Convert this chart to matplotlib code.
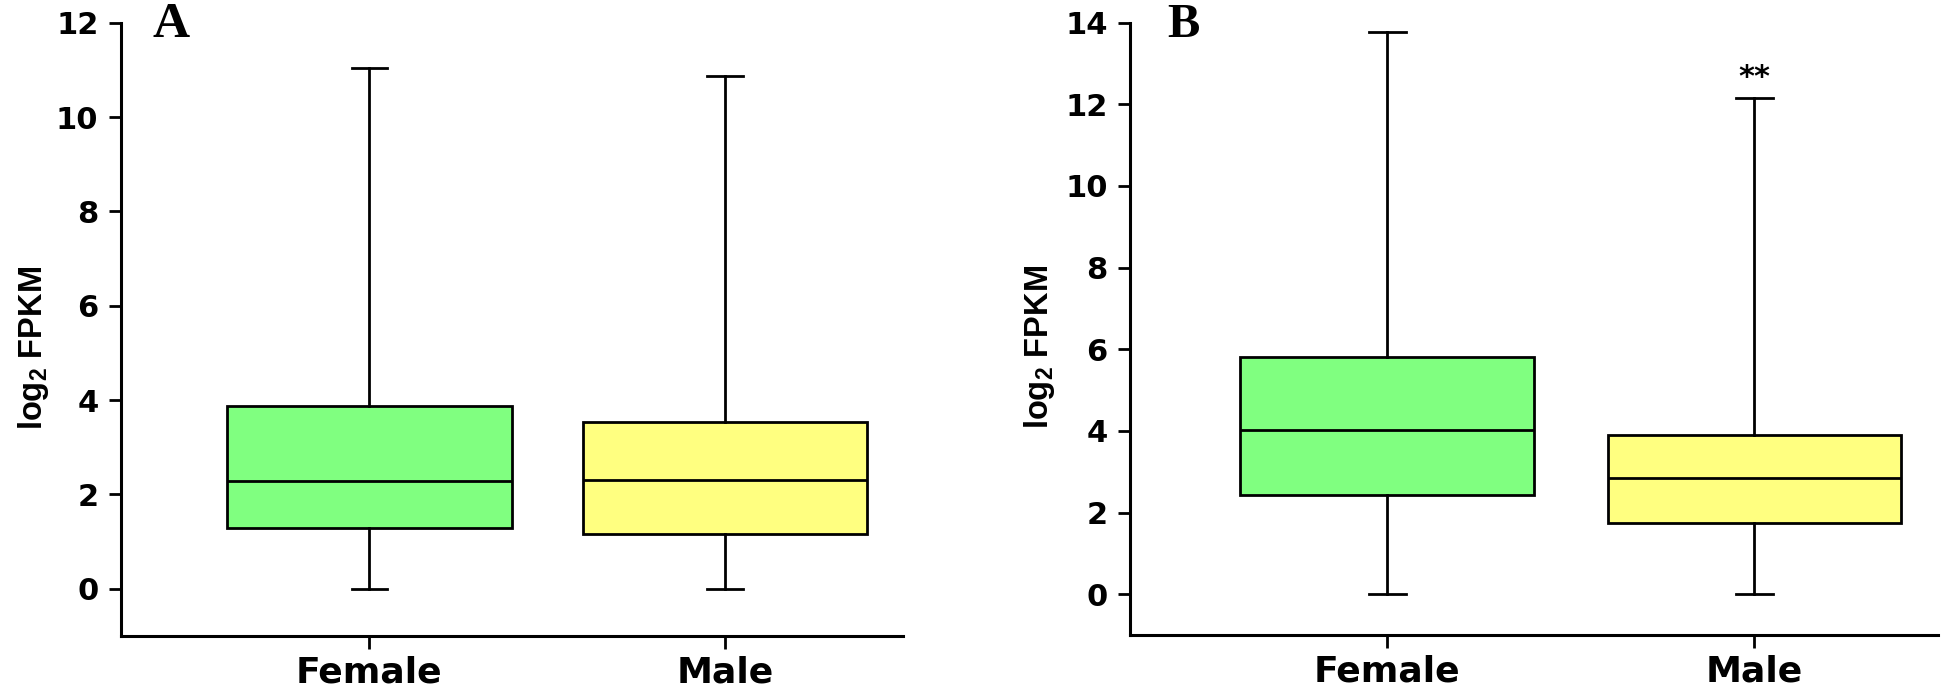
import matplotlib
matplotlib.use('Agg')
import matplotlib.pyplot as plt

plt.rcParams['font.family'] = ['DejaVu Sans']
plt.rcParams['mathtext.fontset'] = 'custom'
plt.rcParams['mathtext.rm'] = 'Liberation Sans:bold'
plt.rcParams['mathtext.bf'] = 'Liberation Sans:bold'
plt.rcParams['mathtext.default'] = 'bf'

# datos (log2 FPKM)
groups = ['Female', 'Male']
colors = ['#80FF80', '#FFFF80']

a_whislo = [0.0, 0.0]
a_q1 = [1.29, 1.17]
a_med = [2.28, 2.30]
a_q3 = [3.88, 3.54]
a_whishi = [11.03, 10.86]

b_whislo = [0.0, 0.0]
b_q1 = [2.43, 1.74]
b_med = [4.02, 2.85]
b_q3 = [5.81, 3.90]
b_whishi = [13.78, 12.16]

a_yticks = [0, 2, 4, 6, 8, 10, 12]
b_yticks = [0, 2, 4, 6, 8, 10, 12, 14]

fig = plt.figure(figsize=(19.43, 6.88), dpi=100)
ax1 = fig.add_axes([0.0621, 0.0756, 0.4024, 0.8914])
ax2 = fig.add_axes([0.5816, 0.0770, 0.4159, 0.8900])


def draw_panel(ax, whislo, q1, med, q3, whishi, yticks, ymax):
    stats = []
    for i in range(len(groups)):
        stats.append({'whislo': whislo[i], 'q1': q1[i], 'med': med[i],
                      'q3': q3[i], 'whishi': whishi[i], 'fliers': []})
    lw = 2.0
    bp = ax.bxp(stats, positions=range(len(groups)), widths=0.8,
                capwidths=0.1, patch_artist=True, showfliers=False,
                boxprops=dict(linewidth=lw, edgecolor='black'),
                medianprops=dict(color='black', linewidth=lw),
                whiskerprops=dict(color='black', linewidth=lw),
                capprops=dict(color='black', linewidth=lw))
    for patch, c in zip(bp['boxes'], colors):
        patch.set_facecolor(c)
    ax.set_xlim(-0.7, 1.5)
    ax.set_ylim(-1, ymax)
    ax.set_yticks(yticks)
    ax.set_xticks(range(len(groups)))
    ax.set_xticklabels(groups)
    for s in ['top', 'right']:
        ax.spines[s].set_visible(False)
    for s in ['left', 'bottom']:
        ax.spines[s].set_linewidth(2.2)
    ax.tick_params(axis='both', direction='out', length=9, width=2)
    ax.tick_params(axis='y', pad=7, labelsize=22)
    ax.tick_params(axis='x', pad=5, labelsize=26)
    for lab in ax.get_xticklabels() + ax.get_yticklabels():
        lab.set_fontweight('bold')
    ax.set_ylabel(r'log$_{2}$ FPKM', fontsize=23.5, fontweight='bold',
                  family='Liberation Sans', va='center')
    ax.yaxis.set_label_coords(-0.112, 0.47)


draw_panel(ax1, a_whislo, a_q1, a_med, a_q3, a_whishi, a_yticks, 12)
draw_panel(ax2, b_whislo, b_q1, b_med, b_q3, b_whishi, b_yticks, 14)

# asteriscos sobre Male (panel B)
ax2.text(1, b_whishi[1] + 0.15, '**', ha='center', va='bottom',
         fontsize=22, fontweight='bold')

fig.text(0.0787, 0.946, 'A', fontsize=37, fontweight='bold',
         family='Liberation Serif', ha='left', va='baseline')
fig.text(0.601, 0.946, 'B', fontsize=35, fontweight='bold',
         family='Liberation Serif', ha='left', va='baseline')

plt.savefig('out.png', dpi=100)
